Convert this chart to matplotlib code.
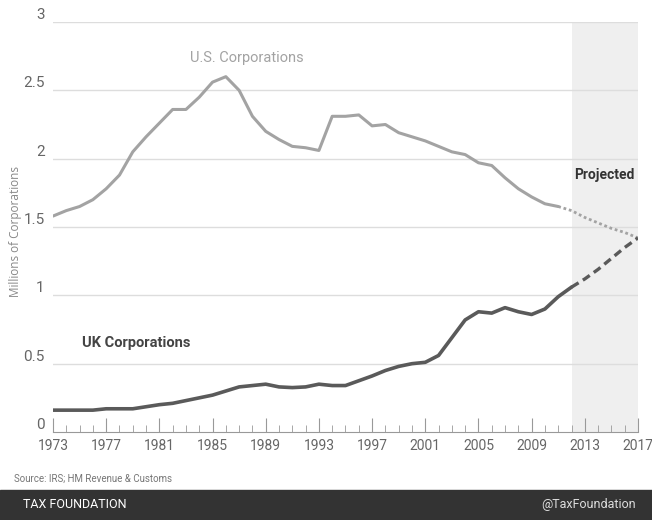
import matplotlib.pyplot as plt
import matplotlib.patches as mpatches

years = list(range(1973, 2013))
us = [1.58, 1.62, 1.65, 1.70, 1.78, 1.88, 2.05, 2.16, 2.26, 2.36,
      2.36, 2.45, 2.56, 2.60, 2.50, 2.31, 2.20, 2.14, 2.09, 2.08,
      2.06, 2.31, 2.31, 2.32, 2.24, 2.25, 2.19, 2.16, 2.13, 2.09,
      2.05, 2.03, 1.97, 1.95, 1.86, 1.78, 1.72, 1.67, 1.65, 1.62]
uk = [0.16, 0.16, 0.16, 0.16, 0.17, 0.17, 0.17, 0.185, 0.20, 0.21,
      0.23, 0.25, 0.27, 0.30, 0.33, 0.34, 0.35, 0.33, 0.325, 0.33,
      0.35, 0.34, 0.34, 0.375, 0.41, 0.45, 0.48, 0.50, 0.51, 0.56,
      0.69, 0.82, 0.88, 0.87, 0.91, 0.88, 0.86, 0.90, 0.99, 1.06]
proj_years = [2011, 2012, 2013, 2014, 2015, 2016, 2017]
us_proj = [1.65, 1.62, 1.57, 1.53, 1.49, 1.46, 1.42]
uk_proj_years = [2012, 2013, 2014, 2015, 2016, 2017]
uk_proj = [1.06, 1.12, 1.19, 1.27, 1.35, 1.42]
yticks = [0, 0.5, 1, 1.5, 2, 2.5, 3]
ylabels = ['0', '0.5', '1', '1.5', '2', '2.5', '3']

font = 'Roboto'

fig = plt.figure(figsize=(6.52, 5.2), dpi=100)
ax = fig.add_axes([0.0813, 0.1692, 0.8972, 0.7885])

ax.axvspan(2012, 2017, color='#efefef', zorder=0, lw=0)
for yv in yticks[1:]:
    ax.axhline(yv, color='#dddddd', lw=1, zorder=1)

# US solid ends 2011, then dotted projection
ax.plot(years[:-1], us[:-1], color='#a3a3a3', lw=2.2, zorder=3, solid_capstyle='round')
ax.plot(proj_years, us_proj, color='#a3a3a3', lw=2, ls=(0, (1, 1)), zorder=3)
ax.plot(years, uk, color='#5a5a5a', lw=2.6, zorder=4, solid_capstyle='round')
ax.plot(uk_proj_years, uk_proj, color='#5a5a5a', lw=2.4, ls=(0, (2.5, 1.5)), zorder=4)

ax.set_xlim(1973, 2017)
ax.set_ylim(0, 3)
ax.set_xticks(list(range(1973, 2018, 4)))
ax.set_xticks(list(range(1973, 2018)), minor=True)
ax.set_yticks(yticks)
ax.set_yticklabels(ylabels)
for s in ['top', 'right', 'left']:
    ax.spines[s].set_visible(False)
ax.spines['bottom'].set_color('#999999')
ax.tick_params(axis='x', which='major', direction='in', length=10, color='#999999',
               labelsize=10, labelcolor='#666666', pad=5)
ax.tick_params(axis='x', which='minor', direction='in', length=5, color='#999999')
ax.tick_params(axis='y', length=0, labelsize=11, labelcolor='#666666', pad=6)
for lab in ax.get_xticklabels() + ax.get_yticklabels():
    lab.set_family(font)
for lab in ax.get_yticklabels():
    lab.set_verticalalignment('bottom')

fig.text(0.024, 0.555, 'Millions of Corporations', color='#888888', fontsize=8.5,
         family='Open Sans', rotation=90, ha='center', va='center')

ax.text(1983.3, 2.71, 'U.S. Corporations', color='#a3a3a3', fontsize=10.5,
        family=font)
ax.text(1975.2, 0.62, 'UK Corporations', color='#444444', fontsize=10.5,
        family=font, fontweight='bold')
ax.text(2012.2, 1.85, 'Projected', color='#333333', fontsize=10,
        family=font, fontweight='bold')

fig.text(0.021, 0.08, 'Source: IRS; HM Revenue & Customs', color='#777777',
         fontsize=7, family=font, va='center')

fig.patches.append(mpatches.Rectangle((0, 0), 1, 0.058, transform=fig.transFigure,
                                      color='#333333', zorder=0))
fig.text(0.035, 0.029, 'TAX FOUNDATION', color='white', fontsize=9,
         family=font, va='center')
fig.text(0.975, 0.029, '@TaxFoundation', color='#dddddd', fontsize=9,
         family=font, va='center', ha='right')

fig.savefig('out.png', dpi=100)
